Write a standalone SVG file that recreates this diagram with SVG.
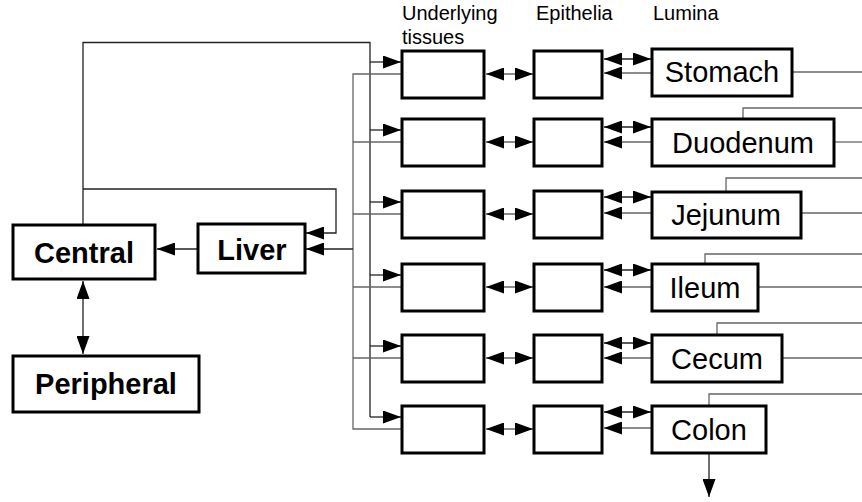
<svg xmlns="http://www.w3.org/2000/svg" width="862" height="502" viewBox="0 0 862 502">
  <style>
    .box { fill: #fff; stroke: #000; stroke-width: 3; }
    .lbl { font-family: "Liberation Sans", Arial, sans-serif; font-size: 29px; fill: #000; text-anchor: middle; }
    .bold { font-weight: bold; }
    .hdr { font-family: "Liberation Sans", Arial, sans-serif; font-size: 20px; fill: #000; }
    .ln { fill: none; stroke: #222; stroke-width: 1.3; }
    .gl { fill: none; stroke: #666; stroke-width: 1.3; }
  </style>
  <defs>
    <marker id="ah" markerUnits="userSpaceOnUse" markerWidth="18" markerHeight="13" refX="18" refY="6.5" orient="auto-start-reverse">
      <path d="M0,0 L18,6.5 L0,13 Z" fill="#000"/>
    </marker>
  </defs>

  <rect width="862" height="502" fill="#fff"/>

  <!-- column headings -->
  <g id="headings">
    <text class="hdr" x="402" y="20">Underlying</text>
    <text class="hdr" x="402" y="44">tissues</text>
    <text class="hdr" x="536" y="20">Epithelia</text>
    <text class="hdr" x="653" y="20">Lumina</text>
  </g>

  <!-- connectors -->
  <g id="connectors">
    <!-- arterial supply from Central -->
    <path class="ln" d="M83,225 V42.5 H370 V417"/>
    <path class="ln" d="M83,189 H336 V233 H306" marker-end="url(#ah)"/>
    <path class="ln" d="M370,62 H401" marker-end="url(#ah)"/>
    <path class="ln" d="M370,130 H401" marker-end="url(#ah)"/>
    <path class="ln" d="M370,202 H401" marker-end="url(#ah)"/>
    <path class="ln" d="M370,275 H401" marker-end="url(#ah)"/>
    <path class="ln" d="M370,346 H401" marker-end="url(#ah)"/>
    <path class="ln" d="M370,417 H401" marker-end="url(#ah)"/>

    <!-- portal return to Liver -->
    <path class="gl" d="M402,74 H353 V429 H402"/>
    <path class="gl" d="M353,142 H402"/>
    <path class="gl" d="M353,214 H402"/>
    <path class="gl" d="M353,287 H402"/>
    <path class="gl" d="M353,358 H402"/>
    <path class="ln" d="M353,249 H306" marker-end="url(#ah)"/>

    <!-- Liver to Central, Central to Peripheral -->
    <path class="ln" d="M198,249 H157" marker-end="url(#ah)"/>
    <path class="ln" d="M83,281 V354" marker-start="url(#ah)" marker-end="url(#ah)"/>

    <!-- underlying tissues <-> epithelia -->
    <path class="gl" d="M486,74 H533" marker-start="url(#ah)" marker-end="url(#ah)"/>
    <path class="gl" d="M486,142 H533" marker-start="url(#ah)" marker-end="url(#ah)"/>
    <path class="gl" d="M486,214 H533" marker-start="url(#ah)" marker-end="url(#ah)"/>
    <path class="gl" d="M486,287 H533" marker-start="url(#ah)" marker-end="url(#ah)"/>
    <path class="gl" d="M486,358 H533" marker-start="url(#ah)" marker-end="url(#ah)"/>
    <path class="gl" d="M486,429 H533" marker-start="url(#ah)" marker-end="url(#ah)"/>

    <!-- epithelia <-> lumina -->
    <path class="ln" d="M604,59 H651" marker-start="url(#ah)" marker-end="url(#ah)"/>
    <path class="gl" d="M652,73 H604" marker-end="url(#ah)"/>
    <path class="ln" d="M604,127 H651" marker-start="url(#ah)" marker-end="url(#ah)"/>
    <path class="gl" d="M652,142 H604" marker-end="url(#ah)"/>
    <path class="ln" d="M604,197 H651" marker-start="url(#ah)" marker-end="url(#ah)"/>
    <path class="gl" d="M652,213 H604" marker-end="url(#ah)"/>
    <path class="ln" d="M604,270 H651" marker-start="url(#ah)" marker-end="url(#ah)"/>
    <path class="gl" d="M652,287 H604" marker-end="url(#ah)"/>
    <path class="ln" d="M604,343 H651" marker-start="url(#ah)" marker-end="url(#ah)"/>
    <path class="gl" d="M652,358 H604" marker-end="url(#ah)"/>
    <path class="ln" d="M604,412 H651" marker-start="url(#ah)" marker-end="url(#ah)"/>
    <path class="gl" d="M652,428 H604" marker-end="url(#ah)"/>

    <!-- luminal transit -->
    <path class="gl" d="M792,72 H862"/>
    <path class="gl" d="M743,119 V108 H862"/>
    <path class="gl" d="M834,142 H862"/>
    <path class="gl" d="M726,192 V178 H862"/>
    <path class="gl" d="M801,213 H862"/>
    <path class="gl" d="M705,264 V254 H862"/>
    <path class="gl" d="M758,287 H862"/>
    <path class="gl" d="M717,335 V323 H862"/>
    <path class="gl" d="M782,358 H862"/>
    <path class="gl" d="M709,406 V394 H862"/>
    <path class="ln" d="M709,453 V497" marker-end="url(#ah)"/>
  </g>

  <!-- systemic nodes -->
  <g id="central"><rect class="box" x="13" y="225" width="142" height="54"/><text class="lbl bold" x="84" y="263">Central</text></g>
  <g id="liver"><rect class="box" x="198" y="224" width="107" height="49"/><text class="lbl bold" x="252" y="260">Liver</text></g>
  <g id="peripheral"><rect class="box" x="13" y="356" width="186" height="56"/><text class="lbl bold" x="106" y="394">Peripheral</text></g>

  <!-- underlying tissues -->
  <g id="ut-stomach"><rect class="box" x="402" y="51" width="82" height="47"/></g>
  <g id="ut-duodenum"><rect class="box" x="402" y="119" width="82" height="47"/></g>
  <g id="ut-jejunum"><rect class="box" x="402" y="191" width="82" height="47"/></g>
  <g id="ut-ileum"><rect class="box" x="402" y="264" width="82" height="47"/></g>
  <g id="ut-cecum"><rect class="box" x="402" y="335" width="82" height="47"/></g>
  <g id="ut-colon"><rect class="box" x="402" y="406" width="82" height="47"/></g>

  <!-- epithelia -->
  <g id="ep-stomach"><rect class="box" x="534" y="51" width="68" height="47"/></g>
  <g id="ep-duodenum"><rect class="box" x="534" y="119" width="68" height="47"/></g>
  <g id="ep-jejunum"><rect class="box" x="534" y="191" width="68" height="47"/></g>
  <g id="ep-ileum"><rect class="box" x="534" y="264" width="68" height="47"/></g>
  <g id="ep-cecum"><rect class="box" x="534" y="335" width="68" height="47"/></g>
  <g id="ep-colon"><rect class="box" x="534" y="406" width="68" height="47"/></g>

  <!-- lumina -->
  <g id="stomach"><rect class="box" x="652" y="49" width="140" height="47"/><text class="lbl" x="722" y="82">Stomach</text></g>
  <g id="duodenum"><rect class="box" x="652" y="119" width="182" height="47"/><text class="lbl" x="743" y="153">Duodenum</text></g>
  <g id="jejunum"><rect class="box" x="652" y="192" width="149" height="46"/><text class="lbl" x="726" y="225">Jejunum</text></g>
  <g id="ileum"><rect class="box" x="652" y="264" width="106" height="47"/><text class="lbl" x="705" y="298">Ileum</text></g>
  <g id="cecum"><rect class="box" x="652" y="335" width="130" height="47"/><text class="lbl" x="717" y="369">Cecum</text></g>
  <g id="colon"><rect class="box" x="652" y="406" width="114" height="47"/><text class="lbl" x="709" y="440">Colon</text></g>
</svg>
